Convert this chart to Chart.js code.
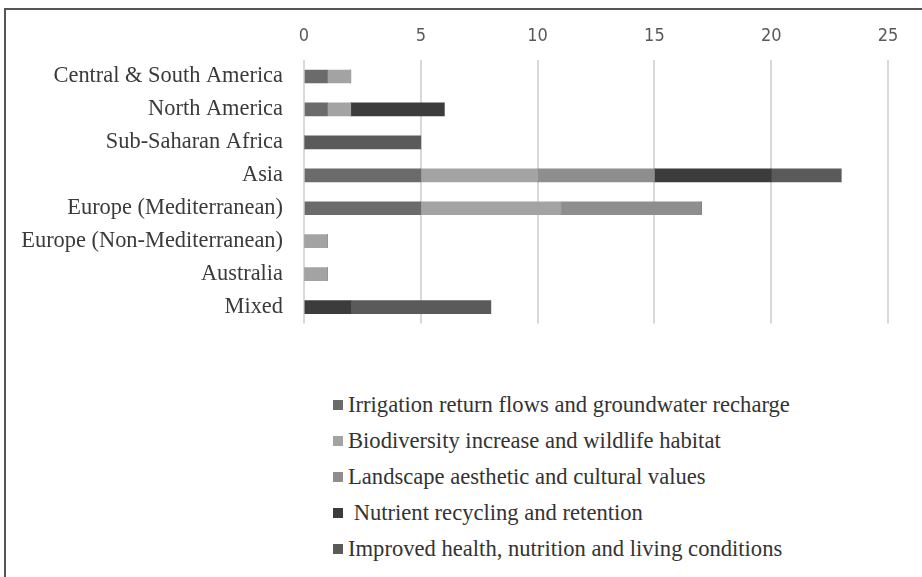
<!DOCTYPE html>
<html>
<head>
<meta charset="utf-8">
<script src="https://cdn.jsdelivr.net/npm/chart.js@4"></script>
<style>
  body { margin: 0; background: #fff; }
  #wrap { position: relative; width: 922px; height: 577px; overflow: hidden; }
  #frame { position: absolute; left: 4px; top: 8px; width: 1000px; height: 1000px;
           border-left: 2px solid #555; border-top: 2px solid #555; }
  #cv { position: absolute; left: 0; top: 0; }
  #legend { position: absolute; left: 333px; top: 387px; font-family: "Liberation Serif", "Times New Roman", serif;
            font-size: 22.6px; color: #333; }
  #legend .item { height: 36px; display: flex; align-items: center; }
  #legend .box { width: 10px; height: 10px; margin-right: 5px; flex: none; }
</style>
</head>
<body>
<div id="wrap">
  <div id="frame"></div>
  <canvas id="cv" width="922" height="358"></canvas>
  <div id="legend"></div>
</div>
<script>
// regions, top to bottom
var regions = ['Central & South America', 'North America', 'Sub-Saharan Africa', 'Asia',
  'Europe (Mediterranean)', 'Europe (Non-Mediterranean)', 'Australia', 'Mixed'];

var irrigation   = [1, 1, 0, 5, 5, 0, 0, 0];
var biodiversity = [1, 1, 0, 5, 6, 1, 1, 0];
var landscape    = [0, 0, 0, 5, 6, 0, 0, 0];
var nutrient     = [0, 4, 0, 5, 0, 0, 0, 2];
var health       = [0, 0, 5, 3, 0, 0, 0, 6];

var seriesNames = ['Irrigation return flows and groundwater recharge',
  'Biodiversity increase and wildlife habitat',
  'Landscape aesthetic and cultural values',
  ' Nutrient recycling and retention',
  'Improved health, nutrition and living conditions'];

var ticksX = [0, 5, 10, 15, 20, 25];

var ctx = document.getElementById('cv').getContext('2d');

var chart = new Chart(ctx, {
  type: 'bar',
  data: {
    labels: regions,
    datasets: [
      { label: seriesNames[0], data: irrigation, backgroundColor: '#6b6b6b' },
      { label: seriesNames[1], data: biodiversity, backgroundColor: '#a3a3a3' },
      { label: seriesNames[2], data: landscape, backgroundColor: '#8e8e8e' },
      { label: seriesNames[3], data: nutrient, backgroundColor: '#3c3c3c' },
      { label: seriesNames[4], data: health, backgroundColor: '#5a5a5a' }
    ]
  },
  options: {
    indexAxis: 'y',
    responsive: false,
    animation: false,
    barThickness: 13,
    layout: { padding: { left: 0, right: 34, top: 0, bottom: 9 } },
    plugins: { legend: { display: false }, tooltip: { enabled: false } },
    scales: {
      x: {
        position: 'top',
        stacked: true,
        min: 0,
        max: 25,
        afterBuildTicks: function (s) { s.ticks = ticksX.map(function (v) { return { value: v }; }); },
        afterFit: function (s) { s.height = 60; },
        border: { display: false },
        grid: { color: '#d9d9d9', lineWidth: 2, drawTicks: false },
        ticks: { padding: 13, color: '#595959',
                 font: { family: '"Liberation Sans Narrow", "DejaVu Sans Condensed", sans-serif', size: 18 } }
      },
      y: {
        stacked: true,
        afterFit: function (s) { s.width = 304; },
        border: { display: false },
        grid: { display: false, drawTicks: false },
        ticks: { padding: 21, color: '#3a3a3a',
                 font: { family: '"Liberation Serif", "Times New Roman", serif', size: 22.4 } }
      }
    }
  }
});

// legend below, one item per line
var lg = document.getElementById('legend');
chart.data.datasets.forEach(function (ds) {
  var it = document.createElement('div');
  it.className = 'item';
  var b = document.createElement('span');
  b.className = 'box';
  b.style.background = ds.backgroundColor;
  var t = document.createElement('span');
  t.textContent = ds.label;
  t.style.whiteSpace = 'pre';
  it.appendChild(b);
  it.appendChild(t);
  lg.appendChild(it);
});
</script>
</body>
</html>
